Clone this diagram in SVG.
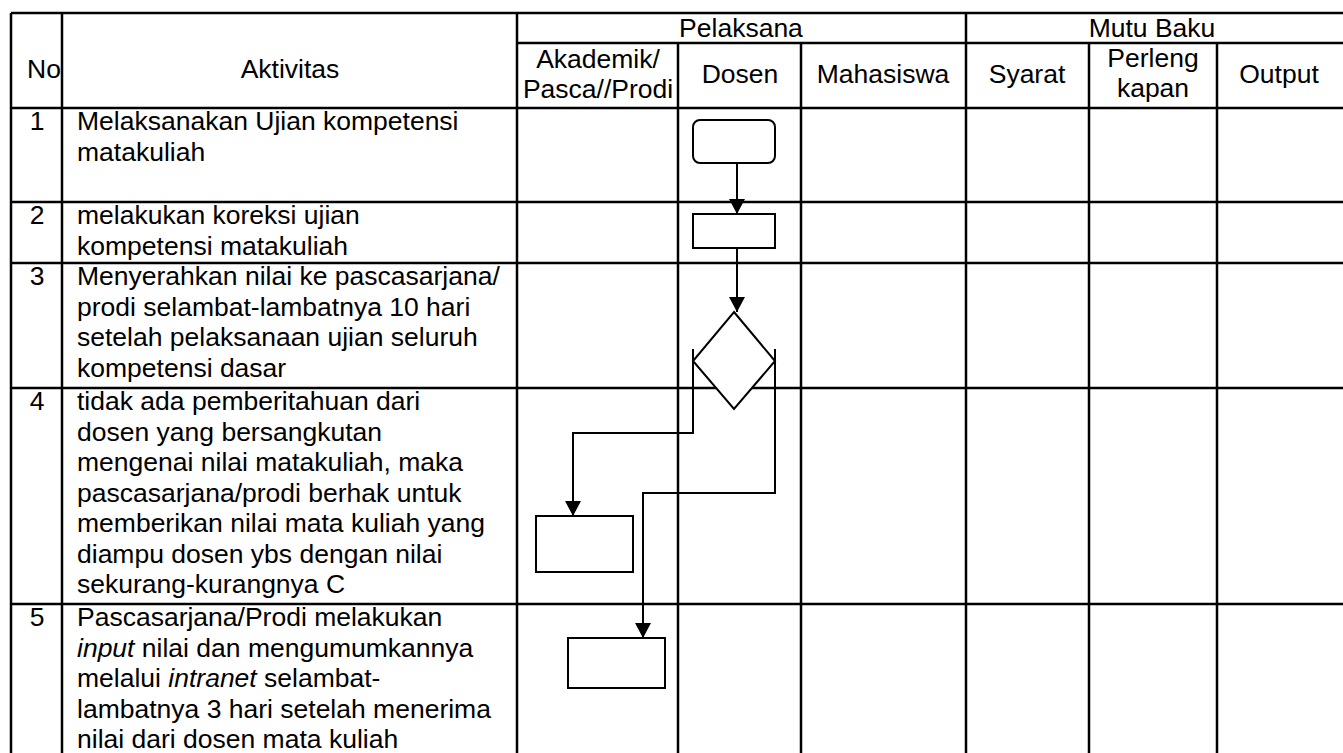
<svg xmlns="http://www.w3.org/2000/svg" width="1343" height="753" viewBox="0 0 1343 753">
<defs>
<marker id="arr" markerUnits="userSpaceOnUse" viewBox="0 0 15 16" markerWidth="15" markerHeight="16" refX="15" refY="8" orient="auto">
<path d="M0,0 L15,8 L0,16 z" fill="#000"/>
</marker>
<style>
text{font-family:"Liberation Sans",Arial,sans-serif;font-size:26.5px;fill:#000}
.c{text-anchor:middle}
.grid line{stroke:#000;stroke-width:2.5}
.shape{fill:#fff;stroke:#000;stroke-width:2}
.conn{fill:none;stroke:#000;stroke-width:2}
.i{font-style:italic}
</style>
</defs>
<rect width="1343" height="753" fill="#fff"/>
<g id="table" class="grid">
<line x1="11" y1="13" x2="1343" y2="13"/>
<line x1="517" y1="43" x2="1343" y2="43"/>
<line x1="11" y1="108" x2="1343" y2="108"/>
<line x1="11" y1="202" x2="1343" y2="202"/>
<line x1="11" y1="263" x2="1343" y2="263"/>
<line x1="11" y1="388" x2="1343" y2="388"/>
<line x1="11" y1="604" x2="1343" y2="604"/>
<line x1="11" y1="13" x2="11" y2="753"/>
<line x1="62" y1="13" x2="62" y2="753"/>
<line x1="517" y1="13" x2="517" y2="753"/>
<line x1="678" y1="43" x2="678" y2="753"/>
<line x1="801" y1="43" x2="801" y2="753"/>
<line x1="966" y1="13" x2="966" y2="753"/>
<line x1="1089" y1="43" x2="1089" y2="753"/>
<line x1="1217" y1="43" x2="1217" y2="753"/>
</g>
<g id="header">
<text x="27" y="78">No</text>
<text class="c" x="290" y="78">Aktivitas</text>
<text class="c" x="741" y="37">Pelaksana</text>
<text class="c" x="1152" y="37">Mutu Baku</text>
<text class="c" x="598" y="68">Akademik/</text>
<text class="c" x="598" y="98">Pasca//Prodi</text>
<text class="c" x="740" y="83">Dosen</text>
<text class="c" x="883" y="83">Mahasiswa</text>
<text class="c" x="1027" y="83">Syarat</text>
<text class="c" x="1153" y="67">Perleng</text>
<text class="c" x="1153" y="97">kapan</text>
<text class="c" x="1279" y="83">Output</text>
</g>
<g id="row1">
<text class="c" x="37" y="130">1</text>
<text x="77" y="130">Melaksanakan Ujian kompetensi</text>
<text x="77" y="160.5">matakuliah</text>
</g>
<g id="row2">
<text class="c" x="37" y="224">2</text>
<text x="77" y="224">melakukan koreksi ujian</text>
<text x="77" y="254.5">kompetensi matakuliah</text>
</g>
<g id="row3">
<text class="c" x="37" y="285">3</text>
<text x="77" y="285">Menyerahkan nilai ke pascasarjana/</text>
<text x="77" y="315.5">prodi selambat-lambatnya 10 hari</text>
<text x="77" y="346">setelah pelaksanaan ujian seluruh</text>
<text x="77" y="376.5">kompetensi dasar</text>
</g>
<g id="row4">
<text class="c" x="37" y="410">4</text>
<text x="77" y="410">tidak ada pemberitahuan dari</text>
<text x="77" y="440.5">dosen yang bersangkutan</text>
<text x="77" y="471">mengenai nilai matakuliah, maka</text>
<text x="77" y="501.5">pascasarjana/prodi berhak untuk</text>
<text x="77" y="532">memberikan nilai mata kuliah yang</text>
<text x="77" y="562.5">diampu dosen ybs dengan nilai</text>
<text x="77" y="593">sekurang-kurangnya C</text>
</g>
<g id="row5">
<text class="c" x="37" y="626">5</text>
<text x="77" y="626">Pascasarjana/Prodi melakukan</text>
<text x="77" y="656.5"><tspan class="i">input</tspan> nilai dan mengumumkannya</text>
<text x="77" y="687">melalui <tspan class="i">intranet</tspan> selambat-</text>
<text x="77" y="717.5">lambatnya 3 hari setelah menerima</text>
<text x="77" y="748">nilai dari dosen mata kuliah</text>
</g>
<g id="connectors">
<path class="conn" d="M737 163 V214" marker-end="url(#arr)"/>
<path class="conn" d="M737 248 V312" marker-end="url(#arr)"/>
<path class="conn" d="M693 349 V433 H573 V516" marker-end="url(#arr)"/>
<path class="conn" d="M775 349 V493 H643 V638" marker-end="url(#arr)"/>
</g>
<g id="start"><rect class="shape" x="693" y="120" width="82" height="43" rx="7"/></g>
<g id="koreksi"><rect class="shape" x="693" y="214" width="82" height="34"/></g>
<g id="decision"><polygon class="shape" points="734,312 775,361 734,409 693,361"/></g>
<g id="nilai"><rect class="shape" x="536" y="516" width="97" height="56"/></g>
<g id="input"><rect class="shape" x="568" y="638" width="97" height="50"/></g>
</svg>
